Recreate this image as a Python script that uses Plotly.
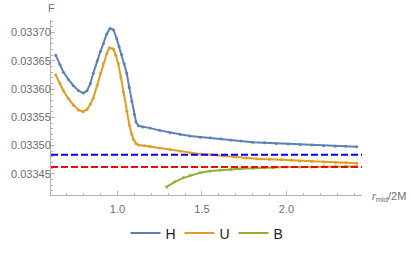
import plotly.graph_objects as go

# ---- data ----
h_x = [0.635, 0.66, 0.68, 0.71, 0.739, 0.77, 0.798, 0.82, 0.84, 0.857, 0.88, 0.90, 0.916, 0.936,
       0.956, 0.976, 0.996, 1.01, 1.025, 1.04, 1.055, 1.07, 1.085, 1.10, 1.11, 1.124, 1.15, 1.193,
       1.25, 1.311, 1.37, 1.43, 1.49, 1.55, 1.61, 1.67, 1.73, 1.80, 1.87, 1.94, 2.01, 2.08, 2.15,
       2.22, 2.29, 2.35, 2.416]
h_y = [0.033660, 0.033643, 0.033630, 0.033617, 0.033606, 0.033597, 0.033593, 0.033597, 0.033610,
       0.033628, 0.033650, 0.033667, 0.033680, 0.033697, 0.033707, 0.033705, 0.033689, 0.033675,
       0.033661, 0.033645, 0.033628, 0.033603, 0.033578, 0.033555, 0.033542, 0.033535, 0.033533,
       0.033531, 0.033527, 0.033523, 0.033520, 0.033517, 0.033515, 0.033514, 0.033512, 0.033510,
       0.033508, 0.033506, 0.033505, 0.033504, 0.033503, 0.033502, 0.033501, 0.033500, 0.033499,
       0.033499, 0.033498]

u_x = [0.635, 0.66, 0.68, 0.71, 0.739, 0.77, 0.798, 0.82, 0.84, 0.857, 0.88, 0.90, 0.916, 0.936,
       0.952, 0.976, 0.99, 1.005, 1.02, 1.035, 1.055, 1.071, 1.085, 1.095, 1.11, 1.124, 1.16, 1.193,
       1.25, 1.311, 1.37, 1.43, 1.49, 1.55, 1.627, 1.70, 1.76, 1.824, 1.90, 1.97, 2.03, 2.08, 2.15,
       2.22, 2.29, 2.35, 2.416]
u_y = [0.033625, 0.033610, 0.033597, 0.033583, 0.033572, 0.033563, 0.033560, 0.033564, 0.033573,
       0.033584, 0.033607, 0.033628, 0.033645, 0.033662, 0.033673, 0.033671, 0.033660, 0.033645,
       0.033622, 0.033595, 0.033561, 0.033536, 0.033520, 0.033511, 0.033504, 0.033501, 0.033500,
       0.033499, 0.033496, 0.033493, 0.033490, 0.033487, 0.033485, 0.033484, 0.033482, 0.033480,
       0.033478, 0.033477, 0.033476, 0.033475, 0.033474, 0.033473, 0.033472, 0.033471, 0.033470,
       0.033470, 0.033469]

b_x = [1.291, 1.34, 1.39, 1.43, 1.489, 1.548, 1.61, 1.67, 1.725, 1.80, 1.87, 1.92, 2.0, 2.08,
       2.15, 2.22, 2.29, 2.35, 2.416]
b_y = [0.033427, 0.033436, 0.033443, 0.033447, 0.033452, 0.033455, 0.033457, 0.033458, 0.033459,
       0.033460, 0.033461, 0.033461, 0.033462, 0.033462, 0.033462, 0.033463, 0.033463, 0.033463,
       0.033463]

blue_level = 0.033484
red_level = 0.033462

y_ticks = [0.03345, 0.03350, 0.03355, 0.03360, 0.03365, 0.03370]
x_ticks = [1.0, 1.5, 2.0]

series = [("H", h_x, h_y, "#5E81B5"), ("U", u_x, u_y, "#E19C24"), ("B", b_x, b_y, "#8FB032")]

fig = go.Figure()
for name, xs, ys, col in series:
    fig.add_trace(go.Scatter(x=xs, y=ys, name=name, mode="lines",
                             line=dict(color=col, width=2)))
    fig.add_trace(go.Scatter(x=xs, y=ys, name=name, mode="markers", showlegend=False,
                             marker=dict(color=col, size=3)))

for lvl, col in [(blue_level, "#0000FF"), (red_level, "#FF0000")]:
    fig.add_shape(type="line", xref="paper", x0=0, x1=1, yref="y", y0=lvl, y1=lvl,
                  line=dict(color=col, width=2, dash="7px,3px"))

axcol = "#b3b3b3"
tickfont = dict(family="Liberation Sans, Arial, sans-serif", size=11, color="#6e6e6e")

fig.update_xaxes(range=[0.607, 2.447], showgrid=False, zeroline=False,
                 showline=True, linecolor=axcol, linewidth=1, automargin=False,
                 ticks="inside", ticklen=4, tickcolor=axcol, tickvals=x_ticks,
                 tickformat=".1f", tickfont=tickfont, ticklabelstandoff=4,
                 minor=dict(dtick=0.1, tick0=0, ticks="inside", ticklen=2, tickcolor=axcol))
fig.update_yaxes(range=[0.0334127, 0.0337222], showgrid=False, zeroline=False,
                 showline=True, linecolor=axcol, linewidth=1, automargin=False,
                 ticks="inside", ticklen=4, tickcolor=axcol, tickvals=y_ticks,
                 tickformat=".5f", tickfont=tickfont, ticklabelstandoff=-3,
                 minor=dict(dtick=0.00001, tick0=0, ticks="inside", ticklen=2, tickcolor=axcol))

fig.add_annotation(text="F", xref="paper", yref="paper", x=0, y=1.07, xanchor="center",
                   yanchor="middle", showarrow=False, font=tickfont)
fig.add_annotation(text="<i>r</i><sub>mid</sub>/2M", xref="paper", yref="paper",
                   x=1.026, y=-0.01,
                   xanchor="left", yanchor="middle", showarrow=False,
                   font=dict(family="Liberation Sans, Arial, sans-serif", size=11, color="#6e6e6e"))

fig.update_layout(
    width=411, height=262,
    margin=dict(l=51, r=49, t=20, b=56),
    plot_bgcolor="white", paper_bgcolor="white",
    showlegend=True,
    legend=dict(orientation="h", x=0.5, xanchor="center", y=-0.22, yanchor="middle",
                font=dict(family="Liberation Sans, Arial, sans-serif", size=14, color="#222222"),
                itemwidth=30, entrywidth=9),
)

# remove the default page margin so the figure fills the 411x262 window exactly
fig.write_html("out.html", config={"displayModeBar": False},
               post_script="document.body.style.margin='0';")
